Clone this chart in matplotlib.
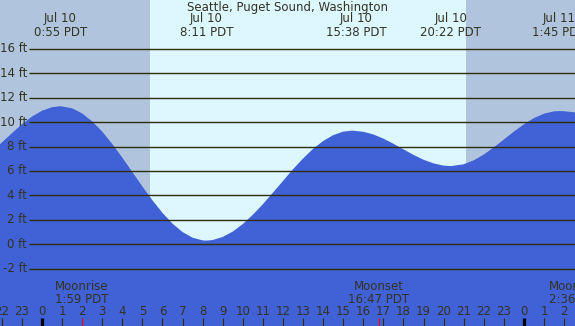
import matplotlib
matplotlib.use("Agg")
import matplotlib.pyplot as plt

# ---------------- data ----------------
title = "Seattle, Puget Sound, Washington"

# hours since Jul 10 00:00 PDT, tide height in ft
tide_hours = [-2.5, -2.0, -1.5, -1.0, -0.5, 0.0, 0.5, 0.92, 1.5, 2.0, 2.5, 3.0,
              3.5, 4.0, 4.5, 5.0, 5.5, 6.0, 6.5, 7.0, 7.5, 8.0, 8.18, 8.5, 9.0,
              9.5, 10.0, 10.5, 11.0, 11.5, 12.0, 12.5, 13.0, 13.5, 14.0, 14.5,
              15.0, 15.45, 16.0, 16.5, 17.0, 17.5, 18.0, 18.5, 19.0, 19.5, 20.0,
              20.37, 21.0, 21.5, 22.0, 22.5, 23.0, 23.5, 24.0, 24.5, 25.0, 25.5,
              25.75, 26.0, 26.5, 27.0]
tide_ft = [7.59, 8.33, 9.09, 9.82, 10.45, 10.93, 11.22, 11.3, 11.13, 10.71, 10.06,
           9.22, 8.21, 7.09, 5.92, 4.73, 3.60, 2.57, 1.69, 1.00, 0.54, 0.32, 0.30,
           0.35, 0.60, 1.04, 1.65, 2.42, 3.28, 4.22, 5.18, 6.14, 7.02, 7.81, 8.45,
           8.93, 9.22, 9.30, 9.21, 8.99, 8.65, 8.23, 7.77, 7.32, 6.92, 6.62, 6.44,
           6.40, 6.55, 6.87, 7.34, 7.93, 8.57, 9.22, 9.82, 10.33, 10.69, 10.88,
           10.90, 10.89, 10.80, 10.62]

extreme_hours = [0.917, 8.183, 15.633, 20.367, 25.75]
extreme_labels = ["Jul 10\n0:55 PDT", "Jul 10\n8:11 PDT", "Jul 10\n15:38 PDT",
                  "Jul 10\n20:22 PDT", "Jul 11\n1:45 PDT"]

sunrise_hour = 5.38
sunset_hour = 21.12

moon_hours = [1.983, 16.783, 26.6]
moon_labels = ["Moonrise\n1:59 PDT", "Moonset\n16:47 PDT", "Moonrise\n2:36 PDT"]

grid_levels = [-2, 0, 2, 4, 6, 8, 10, 12, 14, 16]
grid_labels = [f"{v} ft" for v in grid_levels]

hour_ticks = list(range(-2, 27))
hour_labels = [str(h % 24) for h in hour_ticks]

# ---------------- style ----------------
W, H = 575, 326
X0, XSCALE = 42.0, 20.08       # pixel of hour 0, pixels per hour
Y0, YSCALE = 244.3, 12.22      # pixel of 0 ft, pixels per ft
NIGHT = "#b0c4de"
DAY = "#ddf7ff"
WATER = "#4161d6"
INK = "#2e2e00"
TXT = "#333322"
FS = 8.5

xmin = (0 - X0) / XSCALE
xmax = (W - X0) / XSCALE
ymax = Y0 / YSCALE
ymin = (Y0 - H) / YSCALE

fig = plt.figure(figsize=(W / 100, H / 100), dpi=100)
ax = fig.add_axes([0, 0, 1, 1])
ax.set_xlim(xmin, xmax)
ax.set_ylim(ymin, ymax)
ax.axis("off")

def yf(py):
    return 1 - py / H

xt = ax.get_xaxis_transform()

# backgrounds
ax.axvspan(xmin, xmax, color=NIGHT, lw=0, zorder=0)
ax.axvspan(sunrise_hour, sunset_hour, color=DAY, lw=0, zorder=0.5)

# water
ax.fill_between(tide_hours, tide_ft, ymin - 5, color=WATER, lw=0, zorder=1)

# grid lines and labels
gx0 = (29 - X0) / XSCALE
ax.hlines(grid_levels, gx0, xmax, colors=INK, lw=1.0, zorder=2)
lx = (27 - X0) / XSCALE
for v, lab in zip(grid_levels, grid_labels):
    ax.text(lx, v, lab, ha="right", va="center", fontsize=FS, color=TXT, zorder=3)

# title & extremes
ax.text(0.5, yf(8), title, transform=ax.transAxes, ha="center", va="center",
        fontsize=FS, color=TXT, zorder=3)
for h, lab in zip(extreme_hours, extreme_labels):
    ax.text(h, yf(25.5), lab, transform=xt, ha="center", va="center",
            fontsize=FS, color=TXT, linespacing=1.08, zorder=3, clip_on=False)

# moon events
for h, lab in zip(moon_hours, moon_labels):
    ax.text(h, yf(293), lab, transform=xt, ha="center", va="center",
            fontsize=FS, color=TXT, linespacing=1.08, zorder=3, clip_on=False)

# hour ticks
for h, lab in zip(hour_ticks, hour_labels):
    ax.text(h, yf(311.5), lab, transform=xt, ha="center", va="center",
            fontsize=FS, color=TXT, zorder=3, clip_on=False)
    if h % 24 == 0:
        ax.plot([h, h], [yf(318), 0], transform=xt, color="black", lw=2.3,
                solid_capstyle="butt", zorder=3)
    else:
        ax.plot([h, h], [yf(318), 0], transform=xt, color=INK, lw=0.8,
                solid_capstyle="butt", zorder=3)
for h in moon_hours:
    ax.plot([h, h], [yf(318), 0], transform=xt, color="red", lw=0.8,
            solid_capstyle="butt", zorder=3.5)

fig.savefig("out.png", dpi=100)
